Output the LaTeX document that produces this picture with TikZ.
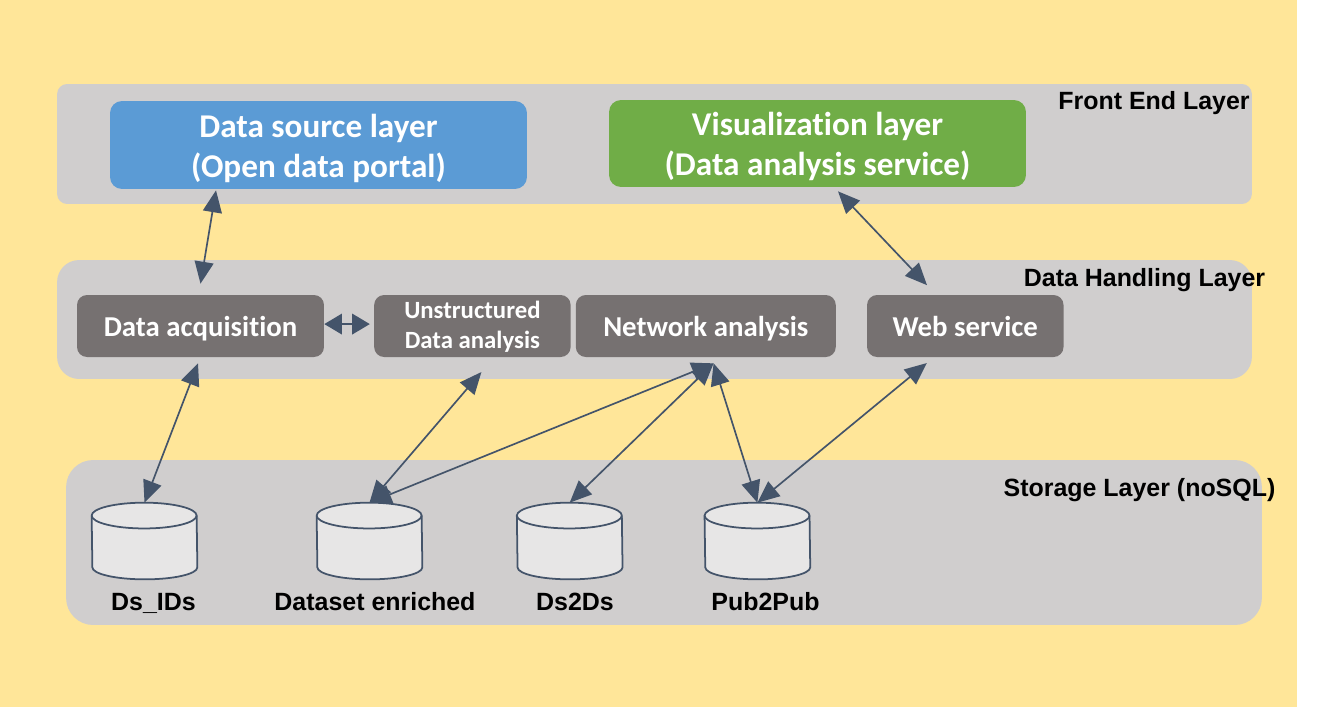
\documentclass[tikz,border=0pt]{standalone}
\usepackage{fontspec}
\setmainfont[Ligatures=NoCommon]{Carlito}
\newfontfamily\labelfont{Liberation Sans}
\usetikzlibrary{arrows.meta}
\definecolor{pagefill}{HTML}{FFE699}
\definecolor{layerfill}{HTML}{D0CECE}
\definecolor{modfill}{HTML}{767171}
\definecolor{srcfill}{HTML}{5B9BD5}
\definecolor{vizfill}{HTML}{70AD47}
\definecolor{linkcol}{HTML}{44546A}
\definecolor{dbfill}{HTML}{E7E6E6}
\tikzstyle{layer}=[fill=layerfill,inner sep=0pt,minimum width=23.9cm]
\tikzstyle{layer title}=[font=\labelfont\bfseries\fontsize{14.2}{16}\selectfont,text=black,inner sep=0pt]
\tikzstyle{top box}=[rounded corners=.24cm,text=white,align=center,inner sep=0pt,minimum width=8.34cm,text height=41.6pt,text depth=5pt,font=\bfseries\fontsize{18.9}{22.7}\selectfont]
\tikzstyle{module}=[fill=modfill,rounded corners=.2cm,text=white,align=center,inner sep=0pt,minimum height=1.24cm,font=\bfseries\fontsize{16.4}{18}\selectfont]
\tikzstyle{one line}=[text height=11.8pt,text depth=0pt]
\tikzstyle{store}=[inner sep=0pt,minimum width=2.1cm,minimum height=1.52cm]
\tikzstyle{drum}=[draw=linkcol,line width=1pt,fill=dbfill]
\tikzstyle{store name}=[font=\labelfont\bfseries\fontsize{14.2}{16}\selectfont,text=black,inner sep=0pt]
\tikzstyle{link}=[draw=linkcol,line width=.95pt,{Triangle[length=12.5pt,width=10.8pt]}-{Triangle[length=12.5pt,width=10.8pt]}]
\tikzstyle{short link}=[draw=linkcol,line width=.95pt,{Triangle[length=10pt,width=11.7pt]}-{Triangle[length=10pt,width=11.7pt]}]
\newcommand{\drumshape}[1]{%
  \draw[drum] ([yshift=-.258cm]#1.north west) arc[start angle=180,end angle=0,x radius=1.05cm,y radius=.258cm]
    -- ([yshift=.24cm]#1.south east) arc[start angle=0,end angle=-180,x radius=1.05cm,y radius=.24cm] -- cycle;
  \draw[drum,fill=none] ([yshift=-.258cm]#1.north west) arc[start angle=180,end angle=360,x radius=1.05cm,y radius=.258cm];}
\begin{document}
\begin{tikzpicture}[x=.02cm,y=-.02cm]
        \useasboundingbox (0,0) rectangle (1326,707);
        \fill[pagefill] (0,0) rectangle (1297,707);
        % layers
        \node[layer,rounded corners=.2cm,minimum height=2.4cm] (front) at (654.5,144) {};
        \node[layer,rounded corners=.44cm,minimum height=2.38cm] (handling) at (654.5,319.5) {};
        \node[layer,rounded corners=.54cm,minimum width=23.92cm,minimum height=3.3cm] (storage) at (664,542.5) {};
        \node[layer title] (fronttitle) at (1154,103) {Front End Layer};
        \node[layer title] (handlingtitle) at (1144.5,280.5) {Data Handling Layer};
        \node[layer title] (storagetitle) at (1139.5,490.5) {Storage Layer (noSQL)};
        % boxes
        \node[top box,fill=srcfill,minimum height=1.76cm] (src) at (318.5,145) {Data source layer\\(Open data portal)};
        \node[top box,fill=vizfill,minimum height=1.74cm] (viz) at (817.5,143.5) {Visualization layer\\(Data analysis service)};
        \node[module,one line,minimum width=4.94cm] (acq) at (200.5,326) {Data acquisition};
        \node[module,minimum width=3.93cm,text height=26pt,text depth=0pt,font=\bfseries\fontsize{14.1}{17}\selectfont] (unstr) at (472.4,326) {Unstructured\\Data analysis};
        \node[module,one line,minimum width=5.2cm] (net) at (705.8,326) {Network analysis};
        \node[module,one line,minimum width=3.93cm] (web) at (965.3,326) {Web service};
        % stores
        \node[store] (dsids) at (144.5,541) {};
        \node[store] (enriched) at (369.5,541) {};
        \node[store] (dsds) at (569.7,541) {};
        \node[store] (pubpub) at (757.4,541) {};
        \drumshape{dsids}
        \drumshape{enriched}
        \drumshape{dsds}
        \drumshape{pubpub}
        \node[store name] (dsidsname) at (153.5,603) {Ds\_IDs};
        \node[store name] (enrichedname) at (375,602) {Dataset enriched};
        \node[store name] (dsdsname) at (575,602) {Ds2Ds};
        \node[store name] (pubpubname) at (765.5,602) {Pub2Pub};
        % free ends of the arrows
        \coordinate (srcport) at ([shift={(-102.5,1)}]src.south);
        \coordinate (acqtop) at ([shift={(0,-11)}]acq.north);
        \coordinate (vizport) at ([shift={(20.5,4)}]viz.south);
        \coordinate (webtop) at ([shift={(-38.3,-9.5)}]web.north);
        \coordinate (acqport) at ([shift={(-2.5,6)}]acq.south);
        \coordinate (unstrport) at ([shift={(9,14.7)}]unstr.south);
        \coordinate (netport) at ([shift={(7.8,6)}]net.south);
        \coordinate (webport) at ([shift={(-38.5,5.7)}]web.south);
        % arrows
        \draw[link] (srcport) to (acqtop);
        \draw[link] (vizport) to (webtop);
        \draw[short link,shorten >=2.3pt] ([yshift=1.1pt]acq.east) to ([yshift=1.1pt]unstr.west);
        \draw[link] (acqport) to (dsids.north);
        \draw[link] (unstrport) to (enriched.north);
        \draw[link] (netport) to (enriched.north);
        \draw[link] (netport) to (dsds.north);
        \draw[link] (netport) to (pubpub.north);
        \draw[link] (webport) to (pubpub.north);
      \end{tikzpicture}
\end{document}
